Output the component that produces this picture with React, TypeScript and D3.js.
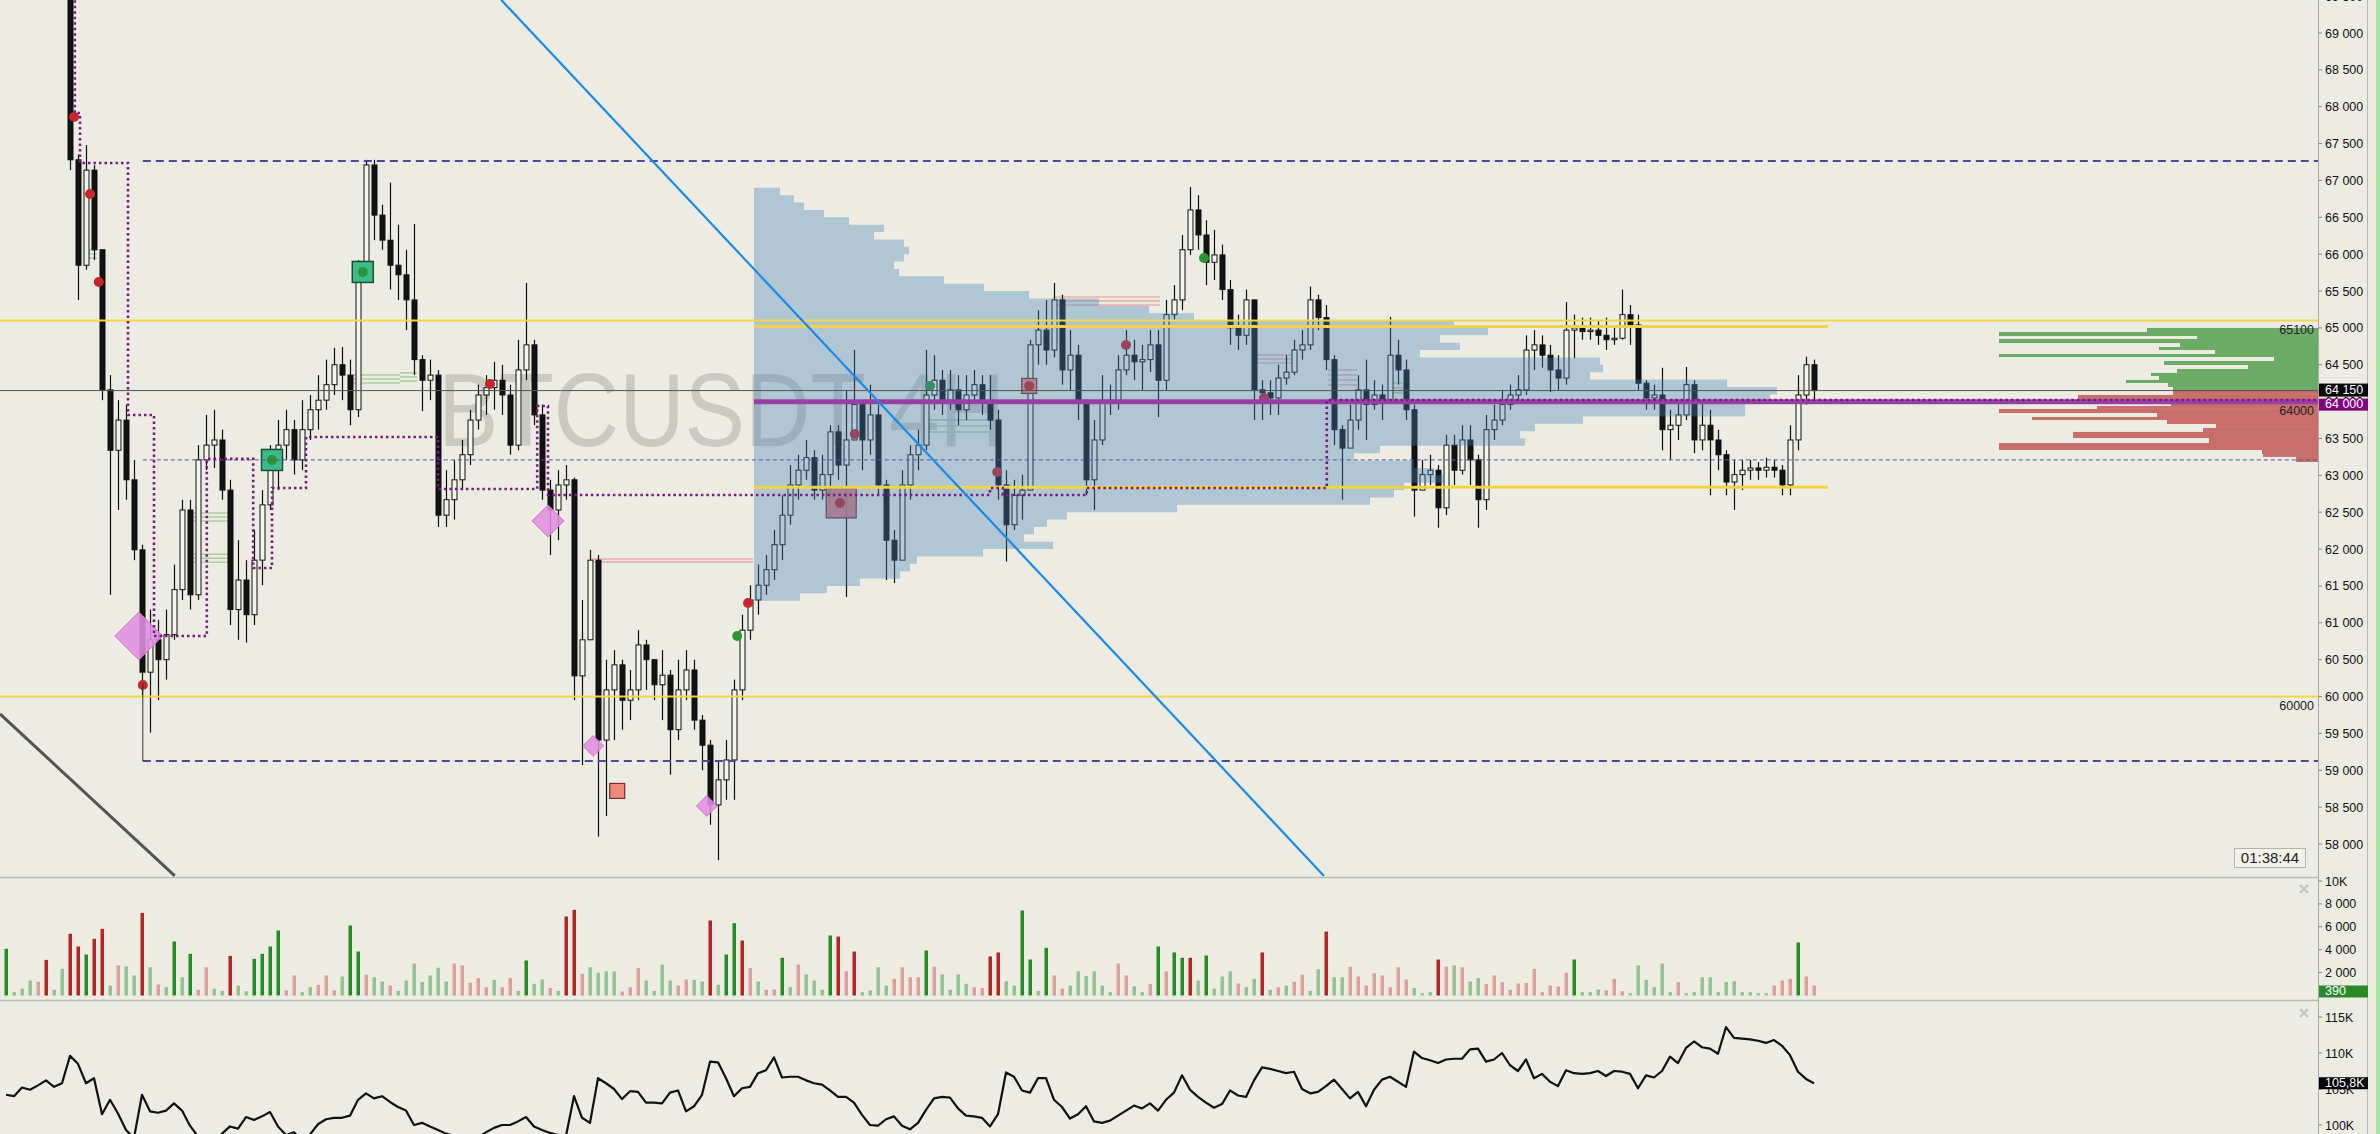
import { useEffect, useRef } from "react";
import * as d3 from "d3";

const firstOpen = 70850;
const closes = [
  71150, 71480, 71220, 70880, 71060, 70640, 70310, 69900,
  67280, 65850, 67140, 66060, 64160, 63340, 63750, 62940, 61990, 60330,
  60770, 60500, 60840, 61450, 62530, 61380, 63210, 63410, 63480, 62800,
  61180, 61580, 61110, 61850, 62600, 63070, 63410, 63620, 63210, 63620,
  63890, 64020, 64230, 64500, 64360, 63890, 65720, 67210, 66530, 66190,
  65850, 65720, 65380, 64570, 64290, 64360, 62460, 62670, 62940, 63280,
  63750, 64090, 64190, 64290, 64090, 63410, 64430, 64770, 63820, 62800,
  62530, 62870, 62940, 60280, 60770, 61850, 59410, 60090, 60430, 59950,
  60090, 60700, 60500, 60160, 60290, 59550, 60090, 60360, 59680, 59340,
  58530, 58870, 59140, 60090, 60900, 61310, 61510, 61720, 62060, 62460,
  62870, 63070, 63240, 62800, 63010, 63590, 63140, 63480, 63960, 63480,
  63820, 62870, 62120, 61850, 62870, 63280, 63410, 64090, 64290, 64020,
  64160, 63890, 64090, 64230, 64020, 63750, 62870, 62330, 62730, 62800,
  64770, 64970, 64700, 65380, 64430, 64630, 64020, 62940, 63480, 64020,
  64000, 64430, 64630, 64540, 64570, 64770, 64290, 65180, 65380, 66060,
  66600, 66260, 65890, 65990, 65520, 65000, 64900, 65380, 64160, 64120,
  64050, 64320, 64400, 64700, 64770, 65380, 65140, 64570, 63620, 63370,
  63750, 64160, 63960, 64090, 64020, 64630, 64430, 63890, 62800, 63010,
  63070, 62560, 63410, 63070, 63480, 63210, 62670, 63620, 63750, 63960,
  64090, 64160, 64700, 64770, 64630, 64430, 64320, 64970, 65000, 64950,
  64970, 64900, 64840, 64860, 65180, 65040, 64250, 64050, 64090, 63620,
  63680, 63820, 64230, 63480, 63680, 63480, 63280, 62910, 63010, 63070,
  63100, 63070, 63110, 63070, 62870, 63480, 64090, 64500, 64150,
];
const highs = [
  71420, 71700, 71560, 71300, 71350, 71150, 70700, 70350,
  70050, 67350, 67480, 67210, 66060, 64360, 64020, 63960, 63210, 62060,
  61180, 61040, 61180, 61790, 62670, 62670, 63410, 63820, 63890, 63620,
  62940, 62120, 61850, 62260, 62800, 63410, 63750, 63890, 63750, 64020,
  64090, 64360, 64570, 64730, 64740, 64570, 65920, 67280, 67280, 66670,
  66970, 66400, 66060, 66410, 64630, 64570, 64430, 63070, 63210, 63480,
  63890, 64230, 64360, 64540, 64500, 64230, 64840, 65610, 64840, 63960,
  62940, 63070, 63140, 62970, 61310, 61990, 61920, 60500, 60630, 60500,
  60360, 60900, 60770, 60500, 60630, 60360, 60500, 60630, 60500, 59750,
  59410, 59140, 59410, 60230, 61110, 61510, 61790, 61920, 62260, 62730,
  63140, 63280, 63480, 63340, 63280, 63680, 63680, 64160, 64700, 64020,
  64230, 63960, 62940, 62260, 63070, 63410, 63620, 64700, 64630, 64430,
  64430, 64360, 64360, 64430, 64360, 64360, 63890, 63070, 62940, 63010,
  64840, 65240, 65380, 65610, 65450, 64970, 64770, 64020, 63750, 64360,
  64230, 64630, 64970, 64840, 64770, 64970, 64970, 65380, 65580, 66260,
  66910, 66800, 66460, 66330, 66130, 65650, 65180, 65520, 65380, 64290,
  64290, 64500, 64630, 64840, 64970, 65560, 65450, 65310, 64630, 63680,
  63960, 64360, 64570, 64290, 64230, 65150, 64840, 64570, 63960, 63210,
  63280, 63140, 63550, 63550, 63680, 63680, 63280, 63820, 63960, 64160,
  64230, 64360, 64900, 64970, 64900, 64770, 64630, 65350, 65180, 65140,
  65140, 65110, 65140, 65040, 65520, 65310, 65180, 64290, 64230, 64460,
  63890, 64020, 64470, 64290, 64020, 63890, 63620, 63340, 63210, 63210,
  63210, 63180, 63240, 63210, 63140, 63680, 64360, 64610, 64570,
];
const lows = [
  70700, 71050, 70900, 70520, 70600, 70250, 69960, 69600,
  67140, 65380, 65790, 65920, 64020, 61380, 62530, 62670, 61850, 60020,
  59510, 59950, 60230, 60770, 61310, 61180, 61310, 63070, 63100, 62670,
  60970, 60770, 60730, 60970, 61510, 62530, 62800, 63210, 63010, 63070,
  63480, 63620, 63890, 64090, 64020, 63680, 63790, 65650, 66190, 66060,
  65520, 65380, 64970, 64360, 63870, 64020, 62300, 62300, 62400, 62800,
  63140, 63620, 63820, 63890, 63820, 63280, 63340, 64290, 63680, 62670,
  61920, 62120, 62670, 59950, 59070, 60770, 58100, 58380, 59410, 59550,
  59680, 59950, 60090, 59950, 59680, 58940, 59410, 59950, 59550, 59000,
  58260, 57780, 58600, 58600, 59950, 60770, 61110, 61380, 61580, 61850,
  62330, 62670, 62940, 62670, 62670, 62730, 62940, 61350, 63480, 63070,
  63280, 62730, 61580, 61540, 61850, 62670, 63070, 63340, 63890, 63820,
  63890, 63680, 63750, 64020, 63820, 63620, 62670, 61830, 62260, 62400,
  62800, 64500, 64500, 64600, 64230, 64160, 63750, 62730, 62530, 63410,
  63820, 63890, 64360, 64290, 64160, 64400, 63790, 64160, 65110, 65240,
  65990, 66060, 65580, 65650, 65380, 64770, 64700, 64770, 63750, 63750,
  63820, 63820, 64230, 64360, 64570, 64700, 64970, 64430, 63410, 62670,
  63410, 63620, 63480, 63890, 63750, 64090, 64230, 63750, 62440, 62800,
  62870, 62290, 62460, 62870, 63010, 62870, 62290, 62530, 63480, 63680,
  63890, 64020, 64090, 64430, 64460, 64130, 64160, 64230, 64590, 64840,
  64840, 64770, 64700, 64770, 64840, 64770, 64160, 63890, 63890, 63340,
  63210, 63480, 63750, 63300, 63340, 62730, 63070, 62730, 62530, 62800,
  62940, 62940, 62970, 62970, 62730, 62730, 63340, 63960, 64020,
];
// signed volume: + buy-dominated (green), - sell-dominated (red)
const volumes = [
  4080, 300, 600, 1310, -1200, -3110, 500, 2330,
  -5390, -4280, 3580, -4950, -5820, 870, -2620, 2530, 1750, -7220,
  2470, -960, 730, 4720, 1600, 3640, -500, -2470, 580, 400,
  -3460, 870, 380, 3200, 3640, 4280, 5680, -440, -1750, 300,
  730, -930, -1750, -440, 1660, 6110, 3840, -1830, 1600, 1220,
  -870, 400, 1310, 2790, 1160, 1750, 2420, 1220, -2790, -2620,
  -1110, -1510, -730, 1370, -730, -1540, 400, 3060, 1020, 1400,
  -670, 400, -6900, -7480, -1890, 2470, 1980, 2120, 2100, -350,
  -730, -2390, 1310, 400, 2700, 1310, -870, -1400, 1370, 1220,
  -6550, 930, 3580, 6320, -4800, -2390, 1220, -500, -520, 3290,
  730, -2700, 1830, 1310, 500, 5240, -5150, -2120, -3840, 290,
  440, 2470, 870, -1450, -2470, -1600, -1600, 3930, -2530, 1830,
  500, 1830, 1020, -730, -640, -3410, -3760, 1250, 870, 7420,
  3140, 400, 4160, -1750, -600, 870, 2120, 1700, 2120, 870,
  300, -2790, -1750, 800, 300, -1000, 4280, -2100, 3760, 3290,
  -3290, 1310, 3490, 600, 1660, 2120, -1050, 730, 1450, -3760,
  500, -730, 870, -1200, -1830, 400, 2300, -5590, 1600, 1600,
  -2500, -1660, -870, -1950, -1750, -730, -2470, -1400, 670, 200,
  300, -3140, -2530, 2620, -2470, 1220, 1520, -1000, -1750, -1160,
  -500, -1050, -1100, -2330, -300, -870, -790, -1980, 3140, 300,
  300, 520, -440, -1450, -380, 200, 2620, 1370, 730, 2790,
  300, -1160, 200, 300, 1600, 1600, 300, 1160, 1250, 300,
  290, 200, 200, -870, -1310, -1450, 4630, -1660, -870,
];
// cumulative delta indicator, in thousands
const delta = [
  104.2, 104.0, 105.2, 104.9, 105.5, 106.2, 105.3, 105.8,
  109.6, 108.5, 105.8, 106.5, 101.5, 103.5, 101.6, 99.3, 98.2, 104.2,
  101.9, 101.7, 102.0, 103.0, 102.0, 99.9, 98.4, 98.3, 97.8, 98.8,
  99.8, 99.5, 101.1, 100.7, 101.2, 101.8, 99.8, 98.6, 99.0, 97.8,
  98.7, 100.1, 100.8, 101.0, 101.0, 101.3, 103.5, 104.4, 103.7, 104.0,
  103.2, 102.5, 102.0, 100.0, 100.3, 99.8, 99.3, 98.8, 98.5, 98.1,
  97.5, 98.2, 99.0, 99.6, 100.0, 100.0, 100.5, 101.1, 99.8, 99.3,
  98.9, 98.6, 98.5, 104.0, 101.0, 100.3, 106.5, 105.8, 105.0, 103.6,
  104.7, 104.6, 103.1, 103.1, 103.0, 104.5, 104.8, 101.9, 102.6, 104.2,
  108.8, 108.7, 106.5, 104.0, 105.1, 105.3, 107.2, 107.6, 109.4, 106.6,
  106.7, 106.7, 106.2, 105.8, 105.6, 104.8, 103.9, 103.9, 103.1, 101.4,
  100.0, 99.9, 100.8, 101.2, 99.9, 99.4, 100.3, 102.1, 103.7, 103.9,
  103.8, 102.3, 101.3, 101.2, 101.0, 99.8, 101.5, 107.3, 106.7, 104.8,
  104.5, 106.5, 106.5, 103.5, 102.5, 100.9, 101.5, 102.6, 100.5, 100.3,
  100.6, 101.3, 102.0, 102.7, 102.3, 103.0, 102.0, 103.5, 104.5, 106.9,
  104.9, 103.9, 103.1, 102.4, 102.9, 104.8, 104.1, 103.9, 106.2, 108.0,
  107.8, 107.5, 107.2, 107.4, 105.0, 104.4, 104.6, 105.4, 106.3, 105.0,
  103.7, 104.6, 102.6, 104.9, 106.3, 106.7, 106.0, 105.3, 110.2, 109.3,
  109.0, 108.6, 109.1, 109.2, 109.2, 110.5, 110.6, 108.8, 109.1, 110.0,
  108.3, 107.5, 109.1, 106.5, 107.1, 106.0, 105.4, 107.6, 107.2, 107.1,
  107.2, 107.5, 106.8, 107.5, 107.4, 107.1, 105.1, 106.9, 106.6, 107.5,
  109.5, 108.6, 110.7, 111.6, 110.8, 110.6, 109.9, 113.6, 112.1, 112.0,
  111.9, 111.7, 111.4, 111.8, 111.0, 109.7, 107.4, 106.4, 105.8,
];

// axis ticks
const priceTicks = [58000, 58500, 59000, 59500, 60000, 60500, 61000, 61500, 62000, 62500, 63000, 63500,
  64000, 64500, 65000, 65500, 66000, 66500, 67000, 67500, 68000, 68500, 69000, 69500];
const volTicks = [2000, 4000, 6000, 8000, 10000];
const deltaTicks = [100, 105, 110, 115];

// levels (price, start bar index)
const dashedLevels = [[67264, 17.1], [59126, 17.1]];
const thinDottedLevel = [63210, 17.1];
const yellowFull = [65100, 60000];
const yellowRange = [65020, 62840];
const rangeBars = [93.5, 227.75];
const pocLevel = 64000;
const lastPrice = 64150;
const lastVolume = 390;
const lastDelta = 105.8;
const levelTags = [[65100, "65100"], [64000, "64000"], [60000, "60000"]];

// trailing step line (bar index, price)
const stepLine = [
  [8.6, 69520], [8.6, 67915], [9.25, 67915], [9.25, 67237], [15.25, 67237], [15.25, 63819],
  [18.5, 63819], [18.5, 60822], [25.1, 60822], [25.1, 63223], [30.9, 63223], [30.9, 61744],
  [33.25, 61744], [33.25, 62829], [37.5, 62829], [37.5, 63521], [54, 63521], [54, 62815],
  [66.4, 62815], [66.4, 63941], [67.75, 63941], [67.75, 62734], [123, 62734], [123, 62829],
  [124.6, 62829], [124.6, 62734], [135.1, 62734], [135.1, 62829], [165.1, 62829], [165.1, 64023],
  [289, 64023],
];
const anchorStem = [[17.1, 60185], [17.1, 59126]];
const blueTrend = [[61.9, 69448], [164.75, 57567]];
const greyTrend = [[-0.75, 59764], [21.1, 57567]];

// signals
const redDots = [[8.5, 67861], [10.5, 66817], [11.6, 65623], [17.1, 60157], [60.5, 64240], [92.75, 61270],
  [104.25, 62626], [106.1, 63562], [123.9, 63046], [127.9, 64213], [140, 64769], [157.25, 64050]];
const greenDots = [[91.4, 60822], [115.5, 64213], [149.75, 65949], [44.6, 65759], [33.25, 63209]];
const greenBoxes = [[44.6, 65759], [33.25, 63209]];
const redBoxes = [[76.4, 58720, 1], [104.4, 62626, 2], [127.9, 64213, 1]];
const diamonds = [[16.6, 60822, 3], [67.75, 62382, 2], [73.4, 59330, 1.3], [87.6, 58516, 1.3]];

// faint imbalance stripes: [from, to, prices]
const greenStripes: [number, number, number[]][] = [
  [10.25, 11.4, [66057, 66003, 65949]],
  [43.4, 49.25, [64362, 64308, 64253]],
  [23.4, 28, [62490, 62436, 62382]],
  [23.4, 28, [61930, 61876, 61822]],
  [49.25, 51.4, [64390, 64335, 64280]],
  [114.6, 123, [63752, 63670, 63589]],
  [172.6, 174.6, [64253, 64186, 64118]],
];
const pinkStripes: [number, number, number[]][] = [
  [73, 93.4, [61866, 61826]],
  [130.9, 144.25, [65420, 65366, 65311]],
  [155.9, 161.4, [64633, 64579, 64525]],
  [165.25, 168.9, [64430, 64362, 64294, 64226]],
];

// fixed range volume profile: row low price (100 step), volume
const profileLows = [61300, 61400, 61500, 61600, 61700, 61800, 61900, 62000, 62100, 62200, 62300, 62400,
  62500, 62600, 62700, 62800, 62900, 63000, 63100, 63200, 63300, 63400, 63500, 63600, 63700, 63800,
  63900, 64000, 64100, 64200, 64300, 64400, 64500, 64600, 64700, 64800, 64900, 65000, 65100, 65200,
  65300, 65400, 65500, 65600, 65700, 65800, 65900, 66000, 66100, 66200, 66300, 66400, 66500, 66600,
  66700, 66800];
const profileVols = [46, 73, 106, 146, 156, 163, 229, 299, 270, 280, 293, 313,
  423, 616, 640, 650, 690, 680, 660, 600, 626, 771, 766, 781, 829, 991,
  991, 1016, 1023, 973, 836, 849, 846, 666, 706, 686, 734, 700, 440, 395,
  345, 275, 230, 190, 145, 140, 150, 155, 150, 120, 130, 95, 70, 50,
  40, 26];

// session profile at the right edge: [low, high, volume]
const sessionBuy = [
  [64944, 64999, 171], [64890, 64944, 319], [64850, 64890, 121], [64795, 64850, 319], [64741, 64795, 138],
  [64700, 64741, 159], [64646, 64700, 103], [64605, 64646, 319], [64551, 64605, 44], [64497, 64551, 154],
  [64443, 64497, 70], [64389, 64443, 141], [64348, 64389, 167], [64294, 64348, 159], [64253, 64294, 192],
  [64199, 64253, 150], [64158, 64199, 145],
];
const sessionSell = [
  [64091, 64158, 145], [64023, 64091, 240], [63941, 64023, 147], [63901, 63941, 221], [63846, 63901, 319],
  [63792, 63846, 161], [63751, 63792, 286], [63697, 63751, 151], [63643, 63697, 102], [63589, 63643, 115],
  [63507, 63589, 245], [63439, 63507, 109], [63344, 63439, 319], [63290, 63344, 56], [63250, 63290, 55],
  [63182, 63250, 22],
];

const W = 2380;
const H = 1134;
const AXIS_X = 2318;
const PRICE_BOTTOM = 877;
const VOL_BOTTOM = 1000;
const BG = "#edece2";
const FONT = "'Liberation Sans', Arial, sans-serif";

export default function App() {
  const svgRef = useRef<SVGSVGElement>(null);

  useEffect(() => {
    if (!svgRef.current) return;
    const svg = d3.select(svgRef.current);
    svg.selectAll("*").remove();

    const n = closes.length;
    const opens = closes.map((_, i) => (i === 0 ? firstOpen : closes[i - 1]));

    const x = d3.scaleLinear().domain([0, n - 1]).range([6, 1814]);
    const y = d3.scaleLinear().domain([58000, 69000]).range([844, 33]);
    const yVol = d3.scaleLinear().domain([0, 10000]).range([995.5, 881]);
    const yDelta = d3.scaleLinear().domain([100, 115]).range([1125, 1017]);
    const profW = d3.scaleLinear().domain([0, d3.max(profileVols)!]).range([0, 1023]);
    const sessW = d3.scaleLinear().domain([0, 319]).range([0, 319]);
    const fmt = (v: number) => d3.format(",")(v).replace(/,/g, " ");

    svg.append("rect").attr("width", W).attr("height", H).attr("fill", BG);

    const defs = svg.append("defs");
    defs.append("clipPath").attr("id", "clip-price")
      .append("rect").attr("width", AXIS_X).attr("height", PRICE_BOTTOM);
    defs.append("clipPath").attr("id", "clip-vol")
      .append("rect").attr("y", PRICE_BOTTOM).attr("width", AXIS_X).attr("height", VOL_BOTTOM - PRICE_BOTTOM);
    defs.append("clipPath").attr("id", "clip-delta")
      .append("rect").attr("y", VOL_BOTTOM).attr("width", AXIS_X).attr("height", H - VOL_BOTTOM);

    const g = svg.append("g").attr("clip-path", "url(#clip-price)");

    // watermark
    g.append("text")
      .attr("x", 438).attr("y", 446)
      .attr("font-family", FONT).attr("font-size", 104)
      .attr("textLength", 567).attr("lengthAdjust", "spacingAndGlyphs")
      .attr("fill", "#cbcac1")
      .text("BTCUSDT 4H");

    // faint stripes
    const stripe = (list: [number, number, number[]][], color: string) => {
      list.forEach(([a, b, ps]) => {
        ps.forEach((p) => {
          g.append("line")
            .attr("x1", x(a)).attr("x2", x(b)).attr("y1", y(p)).attr("y2", y(p))
            .attr("stroke", color).attr("stroke-width", 1.6);
        });
      });
    };
    stripe(greenStripes, "#a9cfa5");
    stripe(pinkStripes, "#e6b4ae");

    // candles
    const bodyW = 5;
    closes.forEach((c, i) => {
      const o = opens[i];
      const hi = Math.max(highs[i], o, c);
      const lo = Math.min(lows[i], o, c);
      const cx = Math.round(x(i)) + 0.5;
      g.append("line")
        .attr("x1", cx).attr("x2", cx).attr("y1", y(hi)).attr("y2", y(lo))
        .attr("stroke", "#111").attr("stroke-width", 1.2);
      const top = y(Math.max(o, c));
      const h = Math.max(1, y(Math.min(o, c)) - top);
      g.append("rect")
        .attr("x", cx - bodyW / 2).attr("y", top)
        .attr("width", bodyW).attr("height", h)
        .attr("fill", c >= o ? "#f4f3ec" : "#111")
        .attr("stroke", "#111").attr("stroke-width", 1);
    });

    // signals
    diamonds.forEach(([i, p, w]) => {
      const s = 16 * w;
      const cx = x(i), cy = y(p);
      g.append("path")
        .attr("d", `M${cx},${cy - s / 2}L${cx + s / 2},${cy}L${cx},${cy + s / 2}L${cx - s / 2},${cy}Z`)
        .attr("fill", "#e08ee0").attr("fill-opacity", 0.88)
        .attr("stroke", "#c978c9").attr("stroke-width", 1);
    });
    greenBoxes.forEach(([i, p]) => {
      g.append("rect")
        .attr("x", x(i) - 10.5).attr("y", y(p) - 10.5).attr("width", 21).attr("height", 21)
        .attr("fill", "#3dbb88").attr("stroke", "#1d4d35").attr("stroke-width", 1.5);
    });
    redBoxes.forEach(([i, p, w]) => {
      const s = 15 * w;
      g.append("rect")
        .attr("x", x(i) - s / 2).attr("y", y(p) - s / 2).attr("width", s).attr("height", s)
        .attr("fill", w > 1 ? "#d5737a" : "#f0806f").attr("fill-opacity", 0.9)
        .attr("stroke", "#7a2b33").attr("stroke-width", 1.2);
    });
    redDots.forEach(([i, p]) => {
      g.append("circle").attr("cx", x(i)).attr("cy", y(p)).attr("r", 5)
        .attr("fill", "#c4262c");
    });
    greenDots.forEach(([i, p]) => {
      g.append("circle").attr("cx", x(i)).attr("cy", y(p)).attr("r", 5)
        .attr("fill", "#2b9433");
    });

    // fixed range volume profile (semi transparent overlay)
    const px0 = x(rangeBars[0]);
    let d = "";
    const rows = profileLows.map((lo, k) => ({ top: y(lo + 100), bot: y(lo), w: profW(profileVols[k]) }));
    rows.slice().reverse().forEach((r, k) => {
      if (k === 0) d += `M${px0},${r.top}`;
      d += `L${px0 + r.w},${r.top}L${px0 + r.w},${r.bot}`;
    });
    d += `L${px0},${rows[0].bot}Z`;
    g.append("path").attr("d", d).attr("fill", "rgb(70,130,185)").attr("fill-opacity", 0.36);

    // session profile
    const sess = (list: number[][], color: string) => {
      list.forEach(([lo, hi, v]) => {
        g.append("rect")
          .attr("x", AXIS_X - sessW(v)).attr("y", y(hi))
          .attr("width", sessW(v)).attr("height", y(lo) - y(hi))
          .attr("fill", color);
      });
    };
    sess(sessionBuy, "#6cab66");
    sess(sessionSell, "#c86e6b");

    // levels
    const end = x(289);
    yellowFull.forEach((p) => {
      g.append("line").attr("x1", 0).attr("x2", AXIS_X).attr("y1", y(p)).attr("y2", y(p))
        .attr("stroke", "#f2d64c").attr("stroke-width", 2);
    });
    yellowRange.forEach((p) => {
      g.append("line").attr("x1", x(rangeBars[0])).attr("x2", x(rangeBars[1]))
        .attr("y1", y(p)).attr("y2", y(p))
        .attr("stroke", "#f0d446").attr("stroke-width", 3);
    });
    g.append("line").attr("x1", 0).attr("x2", AXIS_X).attr("y1", y(lastPrice)).attr("y2", y(lastPrice))
      .attr("stroke", "#555").attr("stroke-width", 1);
    dashedLevels.forEach(([p, i]) => {
      g.append("line").attr("x1", x(i)).attr("x2", end).attr("y1", y(p)).attr("y2", y(p))
        .attr("stroke", "#4b4a98").attr("stroke-width", 2).attr("stroke-dasharray", "8,5");
    });
    g.append("line").attr("x1", x(thinDottedLevel[1])).attr("x2", end)
      .attr("y1", y(thinDottedLevel[0])).attr("y2", y(thinDottedLevel[0]))
      .attr("stroke", "#5a50a8").attr("stroke-width", 1).attr("stroke-dasharray", "4,3");
    g.append("line")
      .attr("x1", x(anchorStem[0][0])).attr("x2", x(anchorStem[1][0]))
      .attr("y1", y(anchorStem[0][1])).attr("y2", y(anchorStem[1][1]))
      .attr("stroke", "#333").attr("stroke-width", 1);
    g.append("line").attr("x1", x(rangeBars[0])).attr("x2", AXIS_X)
      .attr("y1", y(pocLevel)).attr("y2", y(pocLevel))
      .attr("stroke", "#983fa6").attr("stroke-width", 5);

    const lineGen = d3.line<number[]>().x((p) => x(p[0])).y((p) => y(p[1]));
    g.append("path").attr("d", lineGen(stepLine)!)
      .attr("fill", "none").attr("stroke", "#7b1a80").attr("stroke-width", 2.6)
      .attr("stroke-dasharray", "2.5,3");

    g.append("path").attr("d", lineGen(blueTrend)!)
      .attr("fill", "none").attr("stroke", "#1e88e5").attr("stroke-width", 2.2);
    g.append("path").attr("d", lineGen(greyTrend)!)
      .attr("fill", "none").attr("stroke", "#555550").attr("stroke-width", 3);

    levelTags.forEach(([p, t]) => {
      g.append("text").attr("x", AXIS_X - 4).attr("y", y(p as number) + 13)
        .attr("text-anchor", "end").attr("font-family", FONT).attr("font-size", 12.5)
        .attr("fill", "#222").text(t as string);
    });

    // timer
    svg.append("rect").attr("x", 2234.5).attr("y", 848.5).attr("width", 71).attr("height", 19)
      .attr("fill", "#f3f2ea").attr("stroke", "#b5b5b0");
    svg.append("text").attr("x", 2270).attr("y", 863).attr("text-anchor", "middle")
      .attr("font-family", FONT).attr("font-size", 15).attr("fill", "#222").text("01:38:44");

    // volume pane
    const gv = svg.append("g").attr("clip-path", "url(#clip-vol)");
    volumes.forEach((v, i) => {
      const strong = Math.abs(v) >= 3000;
      const color = v >= 0 ? (strong ? "#238c23" : "#92c28f") : (strong ? "#b42525" : "#dc9f9c");
      gv.append("rect")
        .attr("x", Math.round(x(i)) - 1.5).attr("y", yVol(Math.abs(v)))
        .attr("width", 3.5).attr("height", yVol(0) - yVol(Math.abs(v)))
        .attr("fill", color);
    });

    // delta pane
    const gd = svg.append("g").attr("clip-path", "url(#clip-delta)");
    gd.append("path")
      .attr("d", d3.line<number>().x((_, i) => x(i)).y((v) => yDelta(v))(delta)!)
      .attr("fill", "none").attr("stroke", "#111").attr("stroke-width", 2.2)
      .attr("stroke-linejoin", "round");

    // separators
    [PRICE_BOTTOM, VOL_BOTTOM].forEach((yy) => {
      svg.append("line").attr("x1", 0).attr("x2", AXIS_X).attr("y1", yy + 0.5).attr("y2", yy + 0.5)
        .attr("stroke", "#bcbcb6").attr("stroke-width", 1.5);
    });

    // close crosses
    [889, 1013].forEach((cy) => {
      const cx = 2304;
      svg.append("path").attr("d", `M${cx - 4},${cy - 4}L${cx + 4},${cy + 4}M${cx + 4},${cy - 4}L${cx - 4},${cy + 4}`)
        .attr("stroke", "#c4c4c0").attr("stroke-width", 2.4);
    });

    // axes frame
    svg.append("line").attr("x1", AXIS_X + 0.5).attr("x2", AXIS_X + 0.5).attr("y1", 0).attr("y2", H)
      .attr("stroke", "#a9a9a4");
    svg.append("line").attr("x1", 2367.5).attr("x2", 2367.5).attr("y1", 0).attr("y2", H)
      .attr("stroke", "#b9b9b4");
    svg.append("rect").attr("x", 2376).attr("y", 0).attr("width", 4).attr("height", H).attr("fill", "#a7e4a1");

    const axisText = (yy: number, t: string) => {
      svg.append("line").attr("x1", AXIS_X).attr("x2", AXIS_X + 4).attr("y1", yy).attr("y2", yy)
        .attr("stroke", "#888");
      svg.append("text").attr("x", AXIS_X + 7).attr("y", yy + 4.5)
        .attr("font-family", FONT).attr("font-size", 12.5).attr("fill", "#111").text(t);
    };
    priceTicks.forEach((p) => axisText(y(p), fmt(p)));
    volTicks.forEach((v) => axisText(yVol(v), v >= 10000 ? `${v / 1000}K` : fmt(v)));
    deltaTicks.forEach((v) => axisText(yDelta(v), `${v}K`));

    const tag = (yy: number, h: number, fill: string, t: string) => {
      svg.append("rect").attr("x", AXIS_X + 1).attr("y", yy).attr("width", 49).attr("height", h).attr("fill", fill);
      svg.append("text").attr("x", AXIS_X + 7).attr("y", yy + h - 2.5)
        .attr("font-family", FONT).attr("font-size", 12.5).attr("fill", "#fff").text(t);
    };
    tag(y(lastPrice) - 7, 13, "#000", fmt(lastPrice));
    tag(y(pocLevel) - 3, 12, "#800080", fmt(pocLevel));
    tag(yVol(0) - 10, 12, "#2a8a2a", String(lastVolume));
    tag(yDelta(lastDelta) - 6, 12, "#000", `${String(lastDelta).replace(".", ",")}K`);
  }, []);

  return (
    <svg
      ref={svgRef}
      width={W}
      height={H}
      style={{ position: "absolute", left: 0, top: 0, display: "block" }}
    />
  );
}
